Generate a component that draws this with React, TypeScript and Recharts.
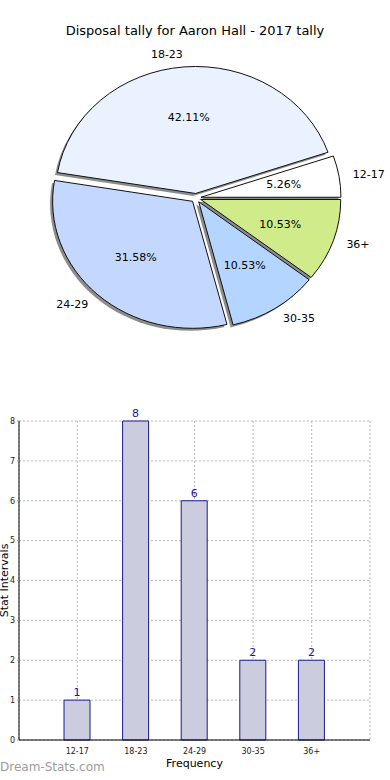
import {
  Bar,
  BarChart,
  CartesianGrid,
  LabelList,
  Pie,
  PieChart,
  XAxis,
  YAxis,
} from "recharts";

const categorias = ["12-17", "18-23", "24-29", "30-35", "36+"];
const conteos = [1, 8, 6, 2, 2];
const coloresPie = ["#ffffff", "#eaf2ff", "#c4d8ff", "#b4d5ff", "#cfeb8a"];
const ticksY = [0, 1, 2, 3, 4, 5, 6, 7, 8];

const datos = categorias.map((c, i) => ({ nombre: c, valor: conteos[i] }));

const FUENTE = "DejaVu Sans, sans-serif";
const RATIO_Y = 0.907; // el pastel original es una elipse
const EXPLODE = 5;

const RAD = Math.PI / 180;

function puntoElipse(cx: number, cy: number, rx: number, ry: number, ang: number) {
  return [cx + rx * Math.cos(ang * RAD), cy - ry * Math.sin(ang * RAD)];
}

function centroExplotado(cx: number, cy: number, mid: number) {
  return [cx + EXPLODE * Math.cos(mid * RAD), cy - EXPLODE * RATIO_Y * Math.sin(mid * RAD)];
}

function rutaSector(props: any) {
  const { cx, cy, outerRadius, startAngle, endAngle, midAngle } = props;
  const [ex, ey] = centroExplotado(cx, cy, midAngle);
  const rx = outerRadius;
  const ry = outerRadius * RATIO_Y;
  const [x1, y1] = puntoElipse(ex, ey, rx, ry, startAngle);
  const [x2, y2] = puntoElipse(ex, ey, rx, ry, endAngle);
  const grande = Math.abs(endAngle - startAngle) > 180 ? 1 : 0;
  return `M${ex},${ey} L${x1},${y1} A${rx},${ry} 0 ${grande} 0 ${x2},${y2} Z`;
}

function SectorSombra(props: any) {
  return (
    <path
      d={rutaSector(props)}
      transform="translate(-2.5,2.5)"
      fill="#000"
      fillOpacity={0.45}
      stroke="none"
    />
  );
}

function SectorElipse(props: any) {
  return <path d={rutaSector(props)} fill={props.fill} stroke="#111" strokeWidth={1} />;
}

function EtiquetaPie(props: any) {
  const { cx, cy, midAngle, outerRadius, percent, name } = props;
  const [ex, ey] = centroExplotado(cx, cy, midAngle);
  const rx = outerRadius;
  const ry = outerRadius * RATIO_Y;
  const [lx, ly] = puntoElipse(ex, ey, rx * 1.1, ry * 1.1, midAngle);
  const [px, py] = puntoElipse(ex, ey, rx * 0.6, ry * 0.6, midAngle);
  const derecha = Math.cos(midAngle * RAD) >= 0;
  return (
    <g fontFamily={FUENTE} fontSize={11} fill="#000">
      <text x={lx} y={ly} textAnchor={derecha ? "start" : "end"} dominantBaseline="central">
        {name}
      </text>
      <text x={px} y={py} textAnchor="middle" dominantBaseline="central">
        {(percent * 100).toFixed(2)}%
      </text>
    </g>
  );
}

function GraficoPie() {
  return (
    <PieChart width={390} height={370} margin={{ top: 0, right: 0, bottom: 0, left: 0 }}>
      <text x={195} y={30} textAnchor="middle" dominantBaseline="central" fontFamily={FUENTE} fontSize={13} fill="#000">
        Disposal tally for Aaron Hall - 2017 tally
      </text>
      <Pie
        data={datos}
        dataKey="valor"
        nameKey="nombre"
        cx={196}
        cy={198}
        outerRadius={140}
        startAngle={0}
        endAngle={360}
        shape={SectorSombra}
        isAnimationActive={false}
        label={false}
        labelLine={false}
      />
      <Pie
        data={datos}
        dataKey="valor"
        nameKey="nombre"
        cx={196}
        cy={198}
        outerRadius={140}
        startAngle={0}
        endAngle={360}
        shape={(p: any) => <SectorElipse {...p} fill={coloresPie[p.index]} />}
        isAnimationActive={false}
        label={EtiquetaPie}
        labelLine={false}
      />
    </PieChart>
  );
}

function GraficoBarras() {
  return (
    <BarChart
      width={390}
      height={385}
      data={datos}
      margin={{ top: 26, right: 20, bottom: 10, left: 0 }}
    >
      <CartesianGrid stroke="#b8b8b8" strokeDasharray="2 2" />
      <XAxis
        dataKey="nombre"
        padding={{ left: 29, right: 29 }}
        height={30}
        axisLine={{ stroke: "#000" }}
        tickLine={false}
        tick={{ fontSize: 8, fill: "#222", fontFamily: FUENTE }}
        tickMargin={2}
        label={{ value: "Frequency", position: "insideBottom", offset: 3, fontSize: 11, fill: "#000", fontFamily: FUENTE }}
      />
      {/* ejes espejo para cerrar el marco */}
      <XAxis xAxisId="arriba" dataKey="nombre" orientation="top" height={0} tick={false} tickLine={false} axisLine={{ stroke: "#000" }} />
      <YAxis
        domain={[0, 8]}
        ticks={ticksY}
        width={19}
        axisLine={{ stroke: "#000" }}
        tickLine={{ stroke: "#999" }}
        tickSize={2}
        tick={{ fontSize: 8, fill: "#222", fontFamily: FUENTE }}
        label={{ value: "Stat Intervals", angle: -90, position: "insideLeft", offset: 0, dx: 4.5, fontSize: 11, fill: "#000", fontFamily: FUENTE, style: { textAnchor: "middle" } }}
      />
      <YAxis yAxisId="derecha" orientation="right" domain={[0, 8]} width={0} tick={false} tickLine={false} axisLine={{ stroke: "#000" }} />
      <Bar dataKey="valor" barSize={26} fill="#ccccdf" stroke="#1a1a8a" strokeWidth={1} isAnimationActive={false}>
        <LabelList dataKey="valor" position="top" offset={4} fill="#1a1a99" fontSize={11} fontFamily={FUENTE} />
      </Bar>
    </BarChart>
  );
}

export default function App() {
  return (
    <div style={{ position: "absolute", top: 0, left: 0, width: 390, height: 780, background: "#fff", fontFamily: FUENTE }}>
      <div style={{ position: "absolute", top: 0, left: 0 }}>
        <GraficoPie />
      </div>
      <div style={{ position: "absolute", top: 395, left: 0 }}>
        <GraficoBarras />
      </div>
      <div style={{ position: "absolute", left: 0, top: 760, fontSize: 12, lineHeight: "15px", color: "#9c9c9c" }}>
        Dream-Stats.com
      </div>
    </div>
  );
}
